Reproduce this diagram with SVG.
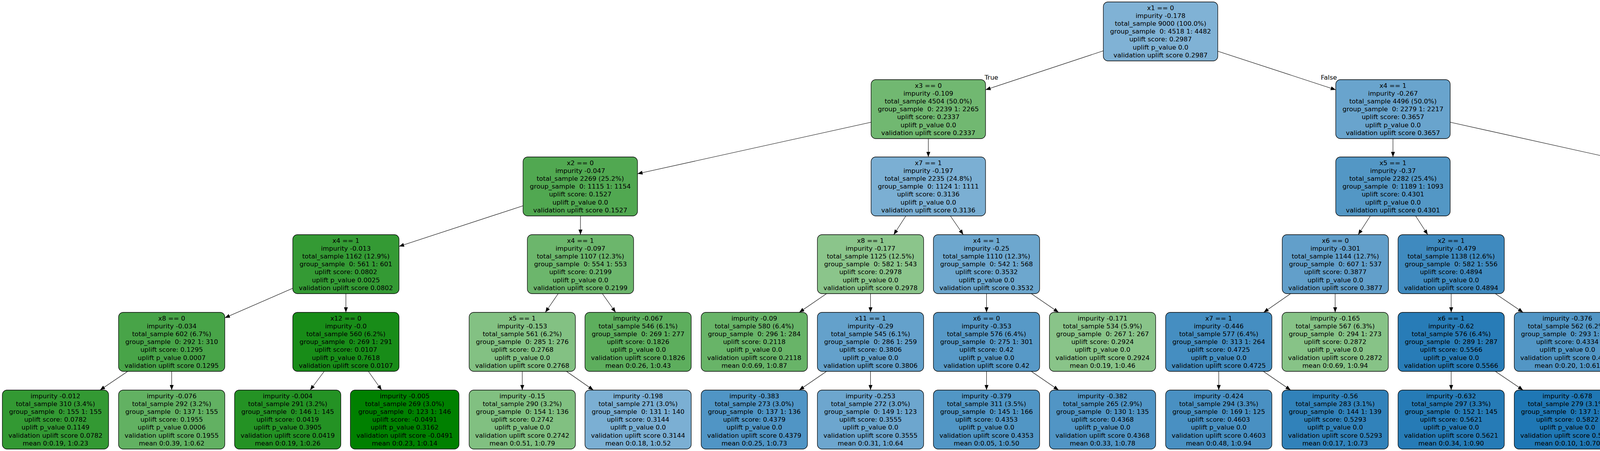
<svg xmlns="http://www.w3.org/2000/svg" width="5566" height="1155" viewBox="0 0 5566 1155">
<style>
.n rect{stroke:#000;stroke-width:1.3}
.n text,.lbl{font-family:"DejaVu Sans","Liberation Sans",sans-serif;font-size:16.5px;fill:#000;white-space:pre}
.n text{text-anchor:middle}
.e line{stroke:#000;stroke-width:1.1;marker-end:url(#ah)}
</style>
<defs>
<marker id="ah" markerUnits="userSpaceOnUse" markerWidth="13" markerHeight="10" viewBox="0 0 13 10" refX="13" refY="5" orient="auto"><path d="M0,0 L13,5 L0,10 z" fill="#000"/></marker>
</defs>
<rect width="5566" height="1155" fill="#fff"/>
<g id="edges" class="e">
<line x1="2825" y1="130" x2="2523" y2="230"/>
<line x1="3117" y1="131" x2="3419.5" y2="230"/>
<line x1="2230" y1="313" x2="1632" y2="445"/>
<line x1="2376.5" y1="355" x2="2376.5" y2="402"/>
<line x1="3566" y1="355" x2="3566" y2="402"/>
<line x1="3712.5" y1="313" x2="4311.5" y2="446"/>
<line x1="1339" y1="527" x2="1021.5" y2="631"/>
<line x1="1486" y1="553" x2="1486" y2="601"/>
<line x1="2319" y1="553" x2="2288" y2="601"/>
<line x1="2433" y1="553" x2="2466" y2="601"/>
<line x1="3508" y1="553" x2="3477" y2="601"/>
<line x1="3624" y1="553" x2="3655" y2="601"/>
<line x1="4458" y1="553" x2="4458" y2="601"/>
<line x1="4604.5" y1="543" x2="4769" y2="615"/>
<line x1="750" y1="738" x2="575.5" y2="814"/>
<line x1="885.5" y1="752" x2="885.5" y2="800"/>
<line x1="1429" y1="752" x2="1396" y2="800"/>
<line x1="1542" y1="752" x2="1576" y2="800"/>
<line x1="2116" y1="752" x2="2046" y2="800"/>
<line x1="2228.5" y1="752" x2="2228.5" y2="800"/>
<line x1="2525.5" y1="752" x2="2525.5" y2="800"/>
<line x1="2640" y1="752" x2="2710" y2="800"/>
<line x1="3304" y1="752" x2="3235" y2="800"/>
<line x1="3418" y1="752" x2="3418" y2="800"/>
<line x1="3715" y1="752" x2="3715" y2="800"/>
<line x1="3828" y1="752" x2="3899" y2="800"/>
<line x1="4401" y1="752" x2="4369" y2="800"/>
<line x1="4514" y1="752" x2="4550" y2="800"/>
<line x1="4905" y1="752" x2="4905" y2="800"/>
<line x1="5017" y1="752" x2="5089" y2="800"/>
<line x1="327" y1="951" x2="256" y2="999"/>
<line x1="439.5" y1="951" x2="439.5" y2="999"/>
<line x1="830" y1="951" x2="794" y2="999"/>
<line x1="943" y1="951" x2="977" y2="999"/>
<line x1="1337" y1="951" x2="1337" y2="999"/>
<line x1="1450" y1="951" x2="1519" y2="999"/>
<line x1="2116" y1="951" x2="2046" y2="999"/>
<line x1="2228.5" y1="951" x2="2228.5" y2="999"/>
<line x1="2525.5" y1="951" x2="2525.5" y2="999"/>
<line x1="2640" y1="951" x2="2710" y2="999"/>
<line x1="3120" y1="951" x2="3120" y2="999"/>
<line x1="3234" y1="951" x2="3304" y2="999"/>
<line x1="3715" y1="951" x2="3715" y2="999"/>
<line x1="3828" y1="951" x2="3899" y2="999"/>
<line x1="4521" y1="951" x2="4475" y2="999"/>
<line x1="4635" y1="951" x2="4652" y2="999"/>
<line x1="5173" y1="951" x2="5158" y2="999"/>
<line x1="5285" y1="951" x2="5337" y2="999"/>
<text class="lbl" x="2538" y="204" text-anchor="middle">True</text>
<text class="lbl" x="3402" y="204" text-anchor="middle">False</text>
</g>
<g id="n0" class="n" transform="translate(2971,5)"><rect x="-146.5" width="293" height="151" rx="12" fill="#80b2d5"/><text><tspan x="0" y="21">x1 == 0</tspan><tspan x="0" dy="20.1">impurity -0.178</tspan><tspan x="0" dy="20.1">total_sample 9000 (100.0%)</tspan><tspan x="0" dy="20.1">group_sample  0: 4518 1: 4482</tspan><tspan x="0" dy="20.1">uplift score: 0.2987</tspan><tspan x="0" dy="20.1">uplift p_value 0.0</tspan><tspan x="0" dy="20.1">validation uplift score 0.2987</tspan></text></g>
<g id="n1" class="n" transform="translate(2376.5,204)"><rect x="-146.5" width="293" height="151" rx="12" fill="#71b871"/><text><tspan x="0" y="21">x3 == 0</tspan><tspan x="0" dy="20.1">impurity -0.109</tspan><tspan x="0" dy="20.1">total_sample 4504 (50.0%)</tspan><tspan x="0" dy="20.1">group_sample  0: 2239 1: 2265</tspan><tspan x="0" dy="20.1">uplift score: 0.2337</tspan><tspan x="0" dy="20.1">uplift p_value 0.0</tspan><tspan x="0" dy="20.1">validation uplift score 0.2337</tspan></text></g>
<g id="n2" class="n" transform="translate(3566,204)"><rect x="-146.5" width="293" height="151" rx="12" fill="#69a4cd"/><text><tspan x="0" y="21">x4 == 1</tspan><tspan x="0" dy="20.1">impurity -0.267</tspan><tspan x="0" dy="20.1">total_sample 4496 (50.0%)</tspan><tspan x="0" dy="20.1">group_sample  0: 2279 1: 2217</tspan><tspan x="0" dy="20.1">uplift score: 0.3657</tspan><tspan x="0" dy="20.1">uplift p_value 0.0</tspan><tspan x="0" dy="20.1">validation uplift score 0.3657</tspan></text></g>
<g id="n3" class="n" transform="translate(1485.5,402)"><rect x="-146.5" width="293" height="151" rx="12" fill="#51a851"/><text><tspan x="0" y="21">x2 == 0</tspan><tspan x="0" dy="20.1">impurity -0.047</tspan><tspan x="0" dy="20.1">total_sample 2269 (25.2%)</tspan><tspan x="0" dy="20.1">group_sample  0: 1115 1: 1154</tspan><tspan x="0" dy="20.1">uplift score: 0.1527</tspan><tspan x="0" dy="20.1">uplift p_value 0.0</tspan><tspan x="0" dy="20.1">validation uplift score 0.1527</tspan></text></g>
<g id="n4" class="n" transform="translate(2376.5,402)"><rect x="-146.5" width="293" height="151" rx="12" fill="#7bafd3"/><text><tspan x="0" y="21">x7 == 1</tspan><tspan x="0" dy="20.1">impurity -0.197</tspan><tspan x="0" dy="20.1">total_sample 2235 (24.8%)</tspan><tspan x="0" dy="20.1">group_sample  0: 1124 1: 1111</tspan><tspan x="0" dy="20.1">uplift score: 0.3136</tspan><tspan x="0" dy="20.1">uplift p_value 0.0</tspan><tspan x="0" dy="20.1">validation uplift score 0.3136</tspan></text></g>
<g id="n5" class="n" transform="translate(3566,402)"><rect x="-146.5" width="293" height="151" rx="12" fill="#5397c5"/><text><tspan x="0" y="21">x5 == 1</tspan><tspan x="0" dy="20.1">impurity -0.37</tspan><tspan x="0" dy="20.1">total_sample 2282 (25.4%)</tspan><tspan x="0" dy="20.1">group_sample  0: 1189 1: 1093</tspan><tspan x="0" dy="20.1">uplift score: 0.4301</tspan><tspan x="0" dy="20.1">uplift p_value 0.0</tspan><tspan x="0" dy="20.1">validation uplift score 0.4301</tspan></text></g>
<g id="n6" class="n" transform="translate(4458,402)"><rect x="-146.5" width="293" height="151" rx="12" fill="#7cb0d3"/><text><tspan x="0" y="21">x8 == 0</tspan><tspan x="0" dy="20.1">impurity -0.192</tspan><tspan x="0" dy="20.1">total_sample 2214 (24.6%)</tspan><tspan x="0" dy="20.1">group_sample  0: 1090 1: 1124</tspan><tspan x="0" dy="20.1">uplift score: 0.3099</tspan><tspan x="0" dy="20.1">uplift p_value 0.0</tspan><tspan x="0" dy="20.1">validation uplift score 0.3099</tspan></text></g>
<g id="n7" class="n" transform="translate(885.5,601)"><rect x="-136" width="272" height="151" rx="12" fill="#349a34"/><text><tspan x="0" y="21">x4 == 1</tspan><tspan x="0" dy="20.1">impurity -0.013</tspan><tspan x="0" dy="20.1">total_sample 1162 (12.9%)</tspan><tspan x="0" dy="20.1">group_sample  0: 561 1: 601</tspan><tspan x="0" dy="20.1">uplift score: 0.0802</tspan><tspan x="0" dy="20.1">uplift p_value 0.0025</tspan><tspan x="0" dy="20.1">validation uplift score 0.0802</tspan></text></g>
<g id="n8" class="n" transform="translate(1486,601)"><rect x="-136" width="272" height="151" rx="12" fill="#6cb66c"/><text><tspan x="0" y="21">x4 == 1</tspan><tspan x="0" dy="20.1">impurity -0.097</tspan><tspan x="0" dy="20.1">total_sample 1107 (12.3%)</tspan><tspan x="0" dy="20.1">group_sample  0: 554 1: 553</tspan><tspan x="0" dy="20.1">uplift score: 0.2199</tspan><tspan x="0" dy="20.1">uplift p_value 0.0</tspan><tspan x="0" dy="20.1">validation uplift score 0.2199</tspan></text></g>
<g id="n9" class="n" transform="translate(2228.5,601)"><rect x="-136" width="272" height="151" rx="12" fill="#8bc58b"/><text><tspan x="0" y="21">x8 == 1</tspan><tspan x="0" dy="20.1">impurity -0.177</tspan><tspan x="0" dy="20.1">total_sample 1125 (12.5%)</tspan><tspan x="0" dy="20.1">group_sample  0: 582 1: 543</tspan><tspan x="0" dy="20.1">uplift score: 0.2978</tspan><tspan x="0" dy="20.1">uplift p_value 0.0</tspan><tspan x="0" dy="20.1">validation uplift score 0.2978</tspan></text></g>
<g id="n10" class="n" transform="translate(2525.5,601)"><rect x="-136" width="272" height="151" rx="12" fill="#6da7ce"/><text><tspan x="0" y="21">x4 == 1</tspan><tspan x="0" dy="20.1">impurity -0.25</tspan><tspan x="0" dy="20.1">total_sample 1110 (12.3%)</tspan><tspan x="0" dy="20.1">group_sample  0: 542 1: 568</tspan><tspan x="0" dy="20.1">uplift score: 0.3532</tspan><tspan x="0" dy="20.1">uplift p_value 0.0</tspan><tspan x="0" dy="20.1">validation uplift score 0.3532</tspan></text></g>
<g id="n11" class="n" transform="translate(3418.5,601)"><rect x="-136" width="272" height="151" rx="12" fill="#629fca"/><text><tspan x="0" y="21">x6 == 0</tspan><tspan x="0" dy="20.1">impurity -0.301</tspan><tspan x="0" dy="20.1">total_sample 1144 (12.7%)</tspan><tspan x="0" dy="20.1">group_sample  0: 607 1: 537</tspan><tspan x="0" dy="20.1">uplift score: 0.3877</tspan><tspan x="0" dy="20.1">uplift p_value 0.0</tspan><tspan x="0" dy="20.1">validation uplift score 0.3877</tspan></text></g>
<g id="n12" class="n" transform="translate(3715,601)"><rect x="-136" width="272" height="151" rx="12" fill="#3f8abf"/><text><tspan x="0" y="21">x2 == 1</tspan><tspan x="0" dy="20.1">impurity -0.479</tspan><tspan x="0" dy="20.1">total_sample 1138 (12.6%)</tspan><tspan x="0" dy="20.1">group_sample  0: 582 1: 556</tspan><tspan x="0" dy="20.1">uplift score: 0.4894</tspan><tspan x="0" dy="20.1">uplift p_value 0.0</tspan><tspan x="0" dy="20.1">validation uplift score 0.4894</tspan></text></g>
<g id="n13" class="n" transform="translate(4458.5,601)"><rect x="-136" width="272" height="151" rx="12" fill="#80b2d4"/><text><tspan x="0" y="21">x2 == 0</tspan><tspan x="0" dy="20.1">impurity -0.179</tspan><tspan x="0" dy="20.1">total_sample 1121 (12.5%)</tspan><tspan x="0" dy="20.1">group_sample  0: 534 1: 587</tspan><tspan x="0" dy="20.1">uplift score: 0.2995</tspan><tspan x="0" dy="20.1">uplift p_value 0.0</tspan><tspan x="0" dy="20.1">validation uplift score 0.2995</tspan></text></g>
<g id="n14" class="n" transform="translate(4905,601)"><rect x="-136" width="272" height="151" rx="12" fill="#77add2"/><text><tspan x="0" y="21">x7 == 1</tspan><tspan x="0" dy="20.1">impurity -0.209</tspan><tspan x="0" dy="20.1">total_sample 1093 (12.1%)</tspan><tspan x="0" dy="20.1">group_sample  0: 556 1: 537</tspan><tspan x="0" dy="20.1">uplift score: 0.3235</tspan><tspan x="0" dy="20.1">uplift p_value 0.0</tspan><tspan x="0" dy="20.1">validation uplift score 0.3235</tspan></text></g>
<g id="n15" class="n" transform="translate(439.5,800)"><rect x="-136" width="272" height="151" rx="12" fill="#48a448"/><text><tspan x="0" y="21">x8 == 0</tspan><tspan x="0" dy="20.1">impurity -0.034</tspan><tspan x="0" dy="20.1">total_sample 602 (6.7%)</tspan><tspan x="0" dy="20.1">group_sample  0: 292 1: 310</tspan><tspan x="0" dy="20.1">uplift score: 0.1295</tspan><tspan x="0" dy="20.1">uplift p_value 0.0007</tspan><tspan x="0" dy="20.1">validation uplift score 0.1295</tspan></text></g>
<g id="n16" class="n" transform="translate(885.5,800)"><rect x="-136" width="272" height="151" rx="12" fill="#188c18"/><text><tspan x="0" y="21">x12 == 0</tspan><tspan x="0" dy="20.1">impurity -0.0</tspan><tspan x="0" dy="20.1">total_sample 560 (6.2%)</tspan><tspan x="0" dy="20.1">group_sample  0: 269 1: 291</tspan><tspan x="0" dy="20.1">uplift score: 0.0107</tspan><tspan x="0" dy="20.1">uplift p_value 0.7618</tspan><tspan x="0" dy="20.1">validation uplift score 0.0107</tspan></text></g>
<g id="n17" class="n" transform="translate(1337,800)"><rect x="-136" width="272" height="151" rx="12" fill="#83c183"/><text><tspan x="0" y="21">x5 == 1</tspan><tspan x="0" dy="20.1">impurity -0.153</tspan><tspan x="0" dy="20.1">total_sample 561 (6.2%)</tspan><tspan x="0" dy="20.1">group_sample  0: 285 1: 276</tspan><tspan x="0" dy="20.1">uplift score: 0.2768</tspan><tspan x="0" dy="20.1">uplift p_value 0.0</tspan><tspan x="0" dy="20.1">validation uplift score 0.2768</tspan></text></g>
<g id="n18" class="n" transform="translate(1633.5,800)"><rect x="-136" width="272" height="151" rx="12" fill="#5dae5d"/><text><tspan x="0" y="21">impurity -0.067</tspan><tspan x="0" dy="20.1">total_sample 546 (6.1%)</tspan><tspan x="0" dy="20.1">group_sample  0: 269 1: 277</tspan><tspan x="0" dy="20.1">uplift score: 0.1826</tspan><tspan x="0" dy="20.1">uplift p_value 0.0</tspan><tspan x="0" dy="20.1">validation uplift score 0.1826</tspan><tspan x="0" dy="20.1">mean 0:0.26, 1:0.43</tspan></text></g>
<g id="n19" class="n" transform="translate(1931,800)"><rect x="-136" width="272" height="151" rx="12" fill="#68b468"/><text><tspan x="0" y="21">impurity -0.09</tspan><tspan x="0" dy="20.1">total_sample 580 (6.4%)</tspan><tspan x="0" dy="20.1">group_sample  0: 296 1: 284</tspan><tspan x="0" dy="20.1">uplift score: 0.2118</tspan><tspan x="0" dy="20.1">uplift p_value 0.0</tspan><tspan x="0" dy="20.1">validation uplift score 0.2118</tspan><tspan x="0" dy="20.1">mean 0:0.69, 1:0.87</tspan></text></g>
<g id="n20" class="n" transform="translate(2228.5,800)"><rect x="-136" width="272" height="151" rx="12" fill="#64a1cb"/><text><tspan x="0" y="21">x11 == 1</tspan><tspan x="0" dy="20.1">impurity -0.29</tspan><tspan x="0" dy="20.1">total_sample 545 (6.1%)</tspan><tspan x="0" dy="20.1">group_sample  0: 286 1: 259</tspan><tspan x="0" dy="20.1">uplift score: 0.3806</tspan><tspan x="0" dy="20.1">uplift p_value 0.0</tspan><tspan x="0" dy="20.1">validation uplift score 0.3806</tspan></text></g>
<g id="n21" class="n" transform="translate(2525.5,800)"><rect x="-136" width="272" height="151" rx="12" fill="#5799c7"/><text><tspan x="0" y="21">x6 == 0</tspan><tspan x="0" dy="20.1">impurity -0.353</tspan><tspan x="0" dy="20.1">total_sample 576 (6.4%)</tspan><tspan x="0" dy="20.1">group_sample  0: 275 1: 301</tspan><tspan x="0" dy="20.1">uplift score: 0.42</tspan><tspan x="0" dy="20.1">uplift p_value 0.0</tspan><tspan x="0" dy="20.1">validation uplift score 0.42</tspan></text></g>
<g id="n22" class="n" transform="translate(2822.5,800)"><rect x="-136" width="272" height="151" rx="12" fill="#89c489"/><text><tspan x="0" y="21">impurity -0.171</tspan><tspan x="0" dy="20.1">total_sample 534 (5.9%)</tspan><tspan x="0" dy="20.1">group_sample  0: 267 1: 267</tspan><tspan x="0" dy="20.1">uplift score: 0.2924</tspan><tspan x="0" dy="20.1">uplift p_value 0.0</tspan><tspan x="0" dy="20.1">validation uplift score 0.2924</tspan><tspan x="0" dy="20.1">mean 0:0.19, 1:0.46</tspan></text></g>
<g id="n23" class="n" transform="translate(3120,800)"><rect x="-136" width="272" height="151" rx="12" fill="#458ec1"/><text><tspan x="0" y="21">x7 == 1</tspan><tspan x="0" dy="20.1">impurity -0.446</tspan><tspan x="0" dy="20.1">total_sample 577 (6.4%)</tspan><tspan x="0" dy="20.1">group_sample  0: 313 1: 264</tspan><tspan x="0" dy="20.1">uplift score: 0.4725</tspan><tspan x="0" dy="20.1">uplift p_value 0.0</tspan><tspan x="0" dy="20.1">validation uplift score 0.4725</tspan></text></g>
<g id="n24" class="n" transform="translate(3418,800)"><rect x="-136" width="272" height="151" rx="12" fill="#87c387"/><text><tspan x="0" y="21">impurity -0.165</tspan><tspan x="0" dy="20.1">total_sample 567 (6.3%)</tspan><tspan x="0" dy="20.1">group_sample  0: 294 1: 273</tspan><tspan x="0" dy="20.1">uplift score: 0.2872</tspan><tspan x="0" dy="20.1">uplift p_value 0.0</tspan><tspan x="0" dy="20.1">validation uplift score 0.2872</tspan><tspan x="0" dy="20.1">mean 0:0.69, 1:0.94</tspan></text></g>
<g id="n25" class="n" transform="translate(3715,800)"><rect x="-136" width="272" height="151" rx="12" fill="#287cb7"/><text><tspan x="0" y="21">x6 == 1</tspan><tspan x="0" dy="20.1">impurity -0.62</tspan><tspan x="0" dy="20.1">total_sample 576 (6.4%)</tspan><tspan x="0" dy="20.1">group_sample  0: 289 1: 287</tspan><tspan x="0" dy="20.1">uplift score: 0.5566</tspan><tspan x="0" dy="20.1">uplift p_value 0.0</tspan><tspan x="0" dy="20.1">validation uplift score 0.5566</tspan></text></g>
<g id="n26" class="n" transform="translate(4012.5,800)"><rect x="-136" width="272" height="151" rx="12" fill="#5296c5"/><text><tspan x="0" y="21">impurity -0.376</tspan><tspan x="0" dy="20.1">total_sample 562 (6.2%)</tspan><tspan x="0" dy="20.1">group_sample  0: 293 1: 269</tspan><tspan x="0" dy="20.1">uplift score: 0.4334</tspan><tspan x="0" dy="20.1">uplift p_value 0.0</tspan><tspan x="0" dy="20.1">validation uplift score 0.4334</tspan><tspan x="0" dy="20.1">mean 0:0.20, 1:0.61</tspan></text></g>
<g id="n27" class="n" transform="translate(4310,800)"><rect x="-136" width="272" height="151" rx="12" fill="#6fb76f"/><text><tspan x="0" y="21">impurity -0.103</tspan><tspan x="0" dy="20.1">total_sample 572 (6.4%)</tspan><tspan x="0" dy="20.1">group_sample  0: 278 1: 294</tspan><tspan x="0" dy="20.1">uplift score: 0.2273</tspan><tspan x="0" dy="20.1">uplift p_value 0.0</tspan><tspan x="0" dy="20.1">validation uplift score 0.2273</tspan><tspan x="0" dy="20.1">mean 0:0.21, 1:0.41</tspan></text></g>
<g id="n28" class="n" transform="translate(4607,800)"><rect x="-136" width="272" height="151" rx="12" fill="#67a3cc"/><text><tspan x="0" y="21">x3 == 0</tspan><tspan x="0" dy="20.1">impurity -0.275</tspan><tspan x="0" dy="20.1">total_sample 549 (6.1%)</tspan><tspan x="0" dy="20.1">group_sample  0: 256 1: 293</tspan><tspan x="0" dy="20.1">uplift score: 0.3708</tspan><tspan x="0" dy="20.1">uplift p_value 0.0</tspan><tspan x="0" dy="20.1">validation uplift score 0.3708</tspan></text></g>
<g id="n29" class="n" transform="translate(4904,800)"><rect x="-136" width="272" height="151" rx="12" fill="#74ba74"/><text><tspan x="0" y="21">impurity -0.115</tspan><tspan x="0" dy="20.1">total_sample 549 (6.1%)</tspan><tspan x="0" dy="20.1">group_sample  0: 272 1: 277</tspan><tspan x="0" dy="20.1">uplift score: 0.2398</tspan><tspan x="0" dy="20.1">uplift p_value 0.0</tspan><tspan x="0" dy="20.1">validation uplift score 0.2398</tspan><tspan x="0" dy="20.1">mean 0:0.65, 1:0.86</tspan></text></g>
<g id="n30" class="n" transform="translate(5201.5,800)"><rect x="-136" width="272" height="151" rx="12" fill="#5c9cc8"/><text><tspan x="0" y="21">x6 == 0</tspan><tspan x="0" dy="20.1">impurity -0.326</tspan><tspan x="0" dy="20.1">total_sample 544 (6.0%)</tspan><tspan x="0" dy="20.1">group_sample  0: 284 1: 260</tspan><tspan x="0" dy="20.1">uplift score: 0.4035</tspan><tspan x="0" dy="20.1">uplift p_value 0.0</tspan><tspan x="0" dy="20.1">validation uplift score 0.4035</tspan></text></g>
<g id="n31" class="n" transform="translate(142,999)"><rect x="-136" width="272" height="151" rx="12" fill="#339933"/><text><tspan x="0" y="21">impurity -0.012</tspan><tspan x="0" dy="20.1">total_sample 310 (3.4%)</tspan><tspan x="0" dy="20.1">group_sample  0: 155 1: 155</tspan><tspan x="0" dy="20.1">uplift score: 0.0782</tspan><tspan x="0" dy="20.1">uplift p_value 0.1149</tspan><tspan x="0" dy="20.1">validation uplift score 0.0782</tspan><tspan x="0" dy="20.1">mean 0:0.19, 1:0.23</tspan></text></g>
<g id="n32" class="n" transform="translate(439.5,999)"><rect x="-136" width="272" height="151" rx="12" fill="#62b162"/><text><tspan x="0" y="21">impurity -0.076</tspan><tspan x="0" dy="20.1">total_sample 292 (3.2%)</tspan><tspan x="0" dy="20.1">group_sample  0: 137 1: 155</tspan><tspan x="0" dy="20.1">uplift score: 0.1955</tspan><tspan x="0" dy="20.1">uplift p_value 0.0006</tspan><tspan x="0" dy="20.1">validation uplift score 0.1955</tspan><tspan x="0" dy="20.1">mean 0:0.39, 1:0.62</tspan></text></g>
<g id="n33" class="n" transform="translate(736.5,999)"><rect x="-136" width="272" height="151" rx="12" fill="#249224"/><text><tspan x="0" y="21">impurity -0.004</tspan><tspan x="0" dy="20.1">total_sample 291 (3.2%)</tspan><tspan x="0" dy="20.1">group_sample  0: 146 1: 145</tspan><tspan x="0" dy="20.1">uplift score: 0.0419</tspan><tspan x="0" dy="20.1">uplift p_value 0.3905</tspan><tspan x="0" dy="20.1">validation uplift score 0.0419</tspan><tspan x="0" dy="20.1">mean 0:0.19, 1:0.26</tspan></text></g>
<g id="n34" class="n" transform="translate(1036,999)"><rect x="-139" width="278" height="151" rx="12" fill="#008000"/><text><tspan x="0" y="21">impurity -0.005</tspan><tspan x="0" dy="20.1">total_sample 269 (3.0%)</tspan><tspan x="0" dy="20.1">group_sample  0: 123 1: 146</tspan><tspan x="0" dy="20.1">uplift score: -0.0491</tspan><tspan x="0" dy="20.1">uplift p_value 0.3162</tspan><tspan x="0" dy="20.1">validation uplift score -0.0491</tspan><tspan x="0" dy="20.1">mean 0:0.23, 1:0.14</tspan></text></g>
<g id="n35" class="n" transform="translate(1337,999)"><rect x="-136" width="272" height="151" rx="12" fill="#81c081"/><text><tspan x="0" y="21">impurity -0.15</tspan><tspan x="0" dy="20.1">total_sample 290 (3.2%)</tspan><tspan x="0" dy="20.1">group_sample  0: 154 1: 136</tspan><tspan x="0" dy="20.1">uplift score: 0.2742</tspan><tspan x="0" dy="20.1">uplift p_value 0.0</tspan><tspan x="0" dy="20.1">validation uplift score 0.2742</tspan><tspan x="0" dy="20.1">mean 0:0.51, 1:0.79</tspan></text></g>
<g id="n36" class="n" transform="translate(1633.5,999)"><rect x="-136" width="272" height="151" rx="12" fill="#7bafd3"/><text><tspan x="0" y="21">impurity -0.198</tspan><tspan x="0" dy="20.1">total_sample 271 (3.0%)</tspan><tspan x="0" dy="20.1">group_sample  0: 131 1: 140</tspan><tspan x="0" dy="20.1">uplift score: 0.3144</tspan><tspan x="0" dy="20.1">uplift p_value 0.0</tspan><tspan x="0" dy="20.1">validation uplift score 0.3144</tspan><tspan x="0" dy="20.1">mean 0:0.18, 1:0.52</tspan></text></g>
<g id="n37" class="n" transform="translate(1931,999)"><rect x="-136" width="272" height="151" rx="12" fill="#5095c5"/><text><tspan x="0" y="21">impurity -0.383</tspan><tspan x="0" dy="20.1">total_sample 273 (3.0%)</tspan><tspan x="0" dy="20.1">group_sample  0: 137 1: 136</tspan><tspan x="0" dy="20.1">uplift score: 0.4379</tspan><tspan x="0" dy="20.1">uplift p_value 0.0</tspan><tspan x="0" dy="20.1">validation uplift score 0.4379</tspan><tspan x="0" dy="20.1">mean 0:0.25, 1:0.73</tspan></text></g>
<g id="n38" class="n" transform="translate(2228.5,999)"><rect x="-136" width="272" height="151" rx="12" fill="#6da6ce"/><text><tspan x="0" y="21">impurity -0.253</tspan><tspan x="0" dy="20.1">total_sample 272 (3.0%)</tspan><tspan x="0" dy="20.1">group_sample  0: 149 1: 123</tspan><tspan x="0" dy="20.1">uplift score: 0.3555</tspan><tspan x="0" dy="20.1">uplift p_value 0.0</tspan><tspan x="0" dy="20.1">validation uplift score 0.3555</tspan><tspan x="0" dy="20.1">mean 0:0.31, 1:0.64</tspan></text></g>
<g id="n39" class="n" transform="translate(2525.5,999)"><rect x="-136" width="272" height="151" rx="12" fill="#5196c5"/><text><tspan x="0" y="21">impurity -0.379</tspan><tspan x="0" dy="20.1">total_sample 311 (3.5%)</tspan><tspan x="0" dy="20.1">group_sample  0: 145 1: 166</tspan><tspan x="0" dy="20.1">uplift score: 0.4353</tspan><tspan x="0" dy="20.1">uplift p_value 0.0</tspan><tspan x="0" dy="20.1">validation uplift score 0.4353</tspan><tspan x="0" dy="20.1">mean 0:0.05, 1:0.50</tspan></text></g>
<g id="n40" class="n" transform="translate(2822.5,999)"><rect x="-136" width="272" height="151" rx="12" fill="#5195c5"/><text><tspan x="0" y="21">impurity -0.382</tspan><tspan x="0" dy="20.1">total_sample 265 (2.9%)</tspan><tspan x="0" dy="20.1">group_sample  0: 130 1: 135</tspan><tspan x="0" dy="20.1">uplift score: 0.4368</tspan><tspan x="0" dy="20.1">uplift p_value 0.0</tspan><tspan x="0" dy="20.1">validation uplift score 0.4368</tspan><tspan x="0" dy="20.1">mean 0:0.33, 1:0.78</tspan></text></g>
<g id="n41" class="n" transform="translate(3120,999)"><rect x="-136" width="272" height="151" rx="12" fill="#4990c2"/><text><tspan x="0" y="21">impurity -0.424</tspan><tspan x="0" dy="20.1">total_sample 294 (3.3%)</tspan><tspan x="0" dy="20.1">group_sample  0: 169 1: 125</tspan><tspan x="0" dy="20.1">uplift score: 0.4603</tspan><tspan x="0" dy="20.1">uplift p_value 0.0</tspan><tspan x="0" dy="20.1">validation uplift score 0.4603</tspan><tspan x="0" dy="20.1">mean 0:0.48, 1:0.94</tspan></text></g>
<g id="n42" class="n" transform="translate(3418,999)"><rect x="-136" width="272" height="151" rx="12" fill="#3182ba"/><text><tspan x="0" y="21">impurity -0.56</tspan><tspan x="0" dy="20.1">total_sample 283 (3.1%)</tspan><tspan x="0" dy="20.1">group_sample  0: 144 1: 139</tspan><tspan x="0" dy="20.1">uplift score: 0.5293</tspan><tspan x="0" dy="20.1">uplift p_value 0.0</tspan><tspan x="0" dy="20.1">validation uplift score 0.5293</tspan><tspan x="0" dy="20.1">mean 0:0.17, 1:0.73</tspan></text></g>
<g id="n43" class="n" transform="translate(3715,999)"><rect x="-136" width="272" height="151" rx="12" fill="#267bb6"/><text><tspan x="0" y="21">impurity -0.632</tspan><tspan x="0" dy="20.1">total_sample 297 (3.3%)</tspan><tspan x="0" dy="20.1">group_sample  0: 152 1: 145</tspan><tspan x="0" dy="20.1">uplift score: 0.5621</tspan><tspan x="0" dy="20.1">uplift p_value 0.0</tspan><tspan x="0" dy="20.1">validation uplift score 0.5621</tspan><tspan x="0" dy="20.1">mean 0:0.34, 1:0.90</tspan></text></g>
<g id="n44" class="n" transform="translate(4012.5,999)"><rect x="-136" width="272" height="151" rx="12" fill="#1f77b4"/><text><tspan x="0" y="21">impurity -0.678</tspan><tspan x="0" dy="20.1">total_sample 279 (3.1%)</tspan><tspan x="0" dy="20.1">group_sample  0: 137 1: 142</tspan><tspan x="0" dy="20.1">uplift score: 0.5822</tspan><tspan x="0" dy="20.1">uplift p_value 0.0</tspan><tspan x="0" dy="20.1">validation uplift score 0.5822</tspan><tspan x="0" dy="20.1">mean 0:0.10, 1:0.70</tspan></text></g>
<g id="n45" class="n" transform="translate(4384.5,999)"><rect x="-136" width="272" height="151" rx="12" fill="#7cafd3"/><text><tspan x="0" y="21">impurity -0.193</tspan><tspan x="0" dy="20.1">total_sample 277 (3.1%)</tspan><tspan x="0" dy="20.1">group_sample  0: 127 1: 150</tspan><tspan x="0" dy="20.1">uplift score: 0.3104</tspan><tspan x="0" dy="20.1">uplift p_value 0.0</tspan><tspan x="0" dy="20.1">validation uplift score 0.3104</tspan><tspan x="0" dy="20.1">mean 0:0.25, 1:0.52</tspan></text></g>
<g id="n46" class="n" transform="translate(4681.5,999)"><rect x="-136" width="272" height="151" rx="12" fill="#4890c2"/><text><tspan x="0" y="21">impurity -0.427</tspan><tspan x="0" dy="20.1">total_sample 272 (3.0%)</tspan><tspan x="0" dy="20.1">group_sample  0: 129 1: 143</tspan><tspan x="0" dy="20.1">uplift score: 0.462</tspan><tspan x="0" dy="20.1">uplift p_value 0.0</tspan><tspan x="0" dy="20.1">validation uplift score 0.462</tspan><tspan x="0" dy="20.1">mean 0:0.19, 1:0.71</tspan></text></g>
<g id="n47" class="n" transform="translate(5127.5,999)"><rect x="-136" width="272" height="151" rx="12" fill="#5f9ec9"/><text><tspan x="0" y="21">impurity -0.314</tspan><tspan x="0" dy="20.1">total_sample 280 (3.1%)</tspan><tspan x="0" dy="20.1">group_sample  0: 141 1: 139</tspan><tspan x="0" dy="20.1">uplift score: 0.3963</tspan><tspan x="0" dy="20.1">uplift p_value 0.0</tspan><tspan x="0" dy="20.1">validation uplift score 0.3963</tspan><tspan x="0" dy="20.1">mean 0:0.11, 1:0.50</tspan></text></g>
<g id="n48" class="n" transform="translate(5424.5,999)"><rect x="-136" width="272" height="151" rx="12" fill="#4c92c3"/><text><tspan x="0" y="21">impurity -0.407</tspan><tspan x="0" dy="20.1">total_sample 264 (2.9%)</tspan><tspan x="0" dy="20.1">group_sample  0: 143 1: 121</tspan><tspan x="0" dy="20.1">uplift score: 0.451</tspan><tspan x="0" dy="20.1">uplift p_value 0.0</tspan><tspan x="0" dy="20.1">validation uplift score 0.451</tspan><tspan x="0" dy="20.1">mean 0:0.36, 1:0.86</tspan></text></g>
</svg>
